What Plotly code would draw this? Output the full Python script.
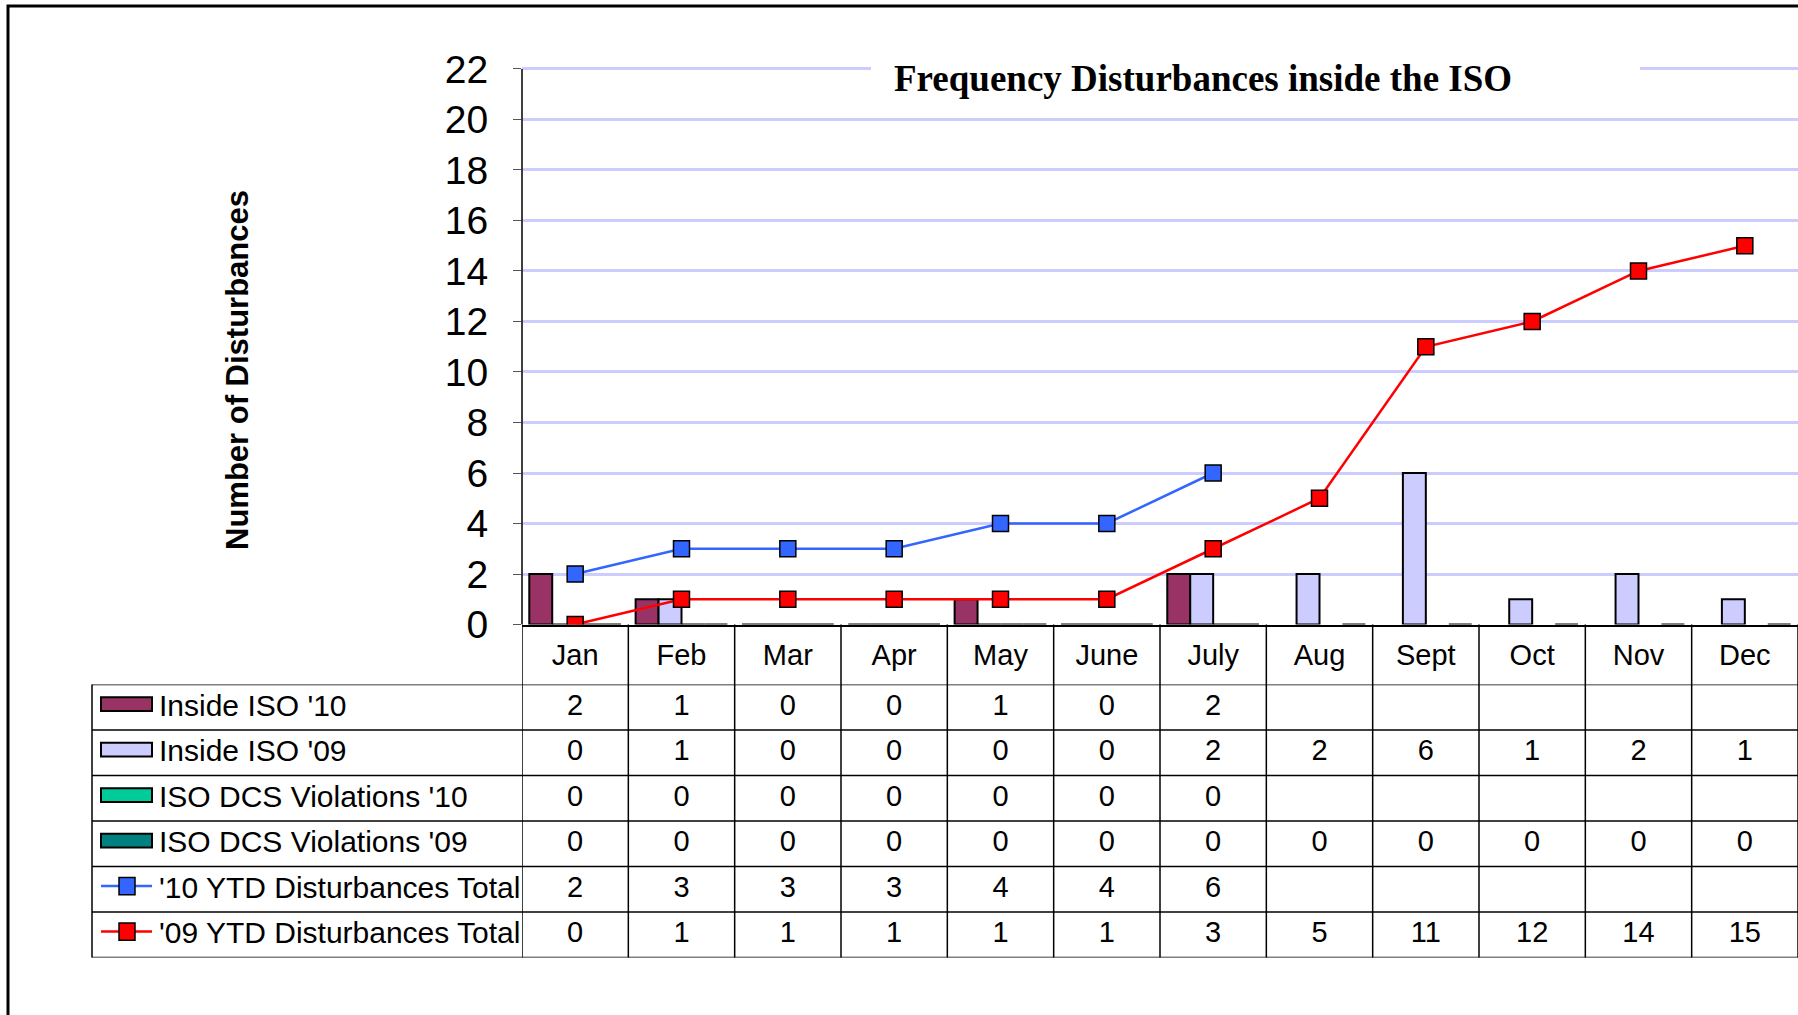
import plotly.graph_objects as go

months = ["Jan", "Feb", "Mar", "Apr", "May", "June", "July", "Aug", "Sept", "Oct", "Nov", "Dec"]

inside_10 = [2, 1, 0, 0, 1, 0, 2, None, None, None, None, None]
inside_09 = [0, 1, 0, 0, 0, 0, 2, 2, 6, 1, 2, 1]
dcs_10 = [0, 0, 0, 0, 0, 0, 0, None, None, None, None, None]
dcs_09 = [0, 0, 0, 0, 0, 0, 0, 0, 0, 0, 0, 0]
ytd_10 = [2, 3, 3, 3, 4, 4, 6, None, None, None, None, None]
ytd_09 = [0, 1, 1, 1, 1, 1, 3, 5, 11, 12, 14, 15]

series_names = ["Inside ISO '10", "Inside ISO '09", "ISO DCS Violations '10",
                "ISO DCS Violations '09", "'10 YTD Disturbances Total",
                "'09 YTD Disturbances Total"]
bar_colors = ["#993366", "#CCCCFF", "#00CC99", "#008080"]
line_colors = ["#3366FF", "#FF0000"]

W, H = 1798, 1015


def px(x):
    return x / W


def py(y):
    return 1 - y / H


FONT = "Arial, Liberation Sans, sans-serif"

fig = go.Figure()

# bars
for name, vals, col in zip(series_names[:4], [inside_10, inside_09, dcs_10, dcs_09], bar_colors):
    fig.add_bar(x=months, y=vals, name=name,
                marker=dict(color=col, line=dict(color="black", width=2)))

# cumulative lines
for name, vals, col in zip(series_names[4:], [ytd_10, ytd_09], line_colors):
    fig.add_scatter(x=months, y=vals, name=name, mode="lines+markers",
                    line=dict(color=col, width=2.5),
                    marker=dict(symbol="square", size=16, color=col,
                                line=dict(color="black", width=1.5)))

# data table values
rows = [inside_10, inside_09, dcs_10, dcs_09, ytd_10, ytd_09]
for r, vals in enumerate(rows):
    fig.add_scatter(x=months, y=[r + 0.5] * len(months), mode="text",
                    text=["" if v is None else str(v) for v in vals],
                    textfont=dict(family=FONT, size=29, color="black"),
                    xaxis="x2", yaxis="y2", hoverinfo="skip")

shapes = []
# frame
shapes.append(dict(type="rect", xref="paper", yref="paper", x0=px(8), x1=px(1810),
                   y0=py(6), y1=py(1030), line=dict(color="black", width=3)))
# white box behind the title
shapes.append(dict(type="rect", xref="paper", yref="paper", x0=px(871), x1=px(1640),
                   y0=py(62), y1=py(78), fillcolor="white", line=dict(width=0), layer="above"))
# value axis line, stopping at 22
shapes.append(dict(type="line", xref="paper", yref="y", x0=px(522), x1=px(522),
                   y0=0, y1=22, line=dict(color="black", width=1.5)))
# table horizontal lines
for r in range(len(rows) + 1):
    shapes.append(dict(type="line", xref="paper", yref="y2", x0=px(92), x1=1,
                       y0=r, y1=r, line=dict(color="black", width=1.5)))
# table vertical lines
for i in range(len(months) + 1):
    shapes.append(dict(type="line", xref="x", yref="paper", x0=i - 0.5, x1=i - 0.5,
                       y0=py(624.5), y1=py(957.5), line=dict(color="black", width=1.5)))
shapes.append(dict(type="line", xref="paper", yref="paper", x0=px(92), x1=px(92),
                   y0=py(684.6), y1=py(957.5), line=dict(color="black", width=1.5)))

annotations = []
# legend keys in the table
for r, name in enumerate(series_names):
    if r < 4:
        shapes.append(dict(type="rect", xref="paper", yref="y2", x0=px(101), x1=px(152),
                           y0=r + 0.28, y1=r + 0.58, fillcolor=bar_colors[r],
                           line=dict(color="black", width=2)))
    else:
        col = line_colors[r - 4]
        shapes.append(dict(type="line", xref="paper", yref="y2", x0=px(101), x1=px(152),
                           y0=r + 0.43, y1=r + 0.43, line=dict(color=col, width=2.5)))
        shapes.append(dict(type="rect", xref="paper", yref="y2", x0=px(119), x1=px(135),
                           y0=r + 0.24, y1=r + 0.62, fillcolor=col,
                           line=dict(color="black", width=1.5)))
    annotations.append(dict(xref="paper", yref="y2", x=px(157), y=r + 0.45, text=name,
                            showarrow=False, xanchor="left", yanchor="middle",
                            font=dict(family=FONT, size=30, color="black")))

annotations.append(dict(xref="paper", yref="paper", x=px(1203), y=py(78),
                        text="<b>Frequency Disturbances inside the ISO</b>", showarrow=False,
                        xanchor="center", yanchor="middle",
                        font=dict(family="Times New Roman, Liberation Serif, serif", size=37,
                                  color="black")))
annotations.append(dict(xref="paper", yref="paper", x=px(237), y=py(370),
                        text="<b>Number of Disturbances</b>", showarrow=False, textangle=-90,
                        xanchor="center", yanchor="middle",
                        font=dict(family=FONT, size=31, color="black")))

fig.update_layout(
    width=W, height=H,
    margin=dict(l=0, r=0, t=0, b=0, autoexpand=False),
    paper_bgcolor="white", plot_bgcolor="white",
    showlegend=False,
    barmode="group", bargap=0.137, bargroupgap=0,
    xaxis=dict(domain=[px(522), 1], range=[-0.5, 11.5], showline=True, linecolor="black",
               linewidth=1.5, ticks="", showgrid=False,
               tickfont=dict(family=FONT, size=29, color="black"),
               ticklabelstandoff=4, fixedrange=True, automargin=False),
    yaxis=dict(domain=[py(624.5), py(65.2)], range=[0, 22.15], dtick=2, showgrid=True,
               gridcolor="#CCCCFF", gridwidth=2.5, zeroline=False, showline=False,
               ticks="outside", ticklen=8,
               tickcolor="#555555", tickfont=dict(family=FONT, size=39, color="black"),
               ticklabelstandoff=17, fixedrange=True, automargin=False),
    xaxis2=dict(domain=[px(522), 1], anchor="y2", matches="x", visible=False,
                automargin=False),
    yaxis2=dict(domain=[py(957.5), py(684.6)], anchor="x2", range=[6, 0], visible=False,
                automargin=False),
    shapes=shapes,
    annotations=annotations,
)

fig.write_html("out.html", config={"displayModeBar": False},
               post_script="document.body.style.margin='0';")
